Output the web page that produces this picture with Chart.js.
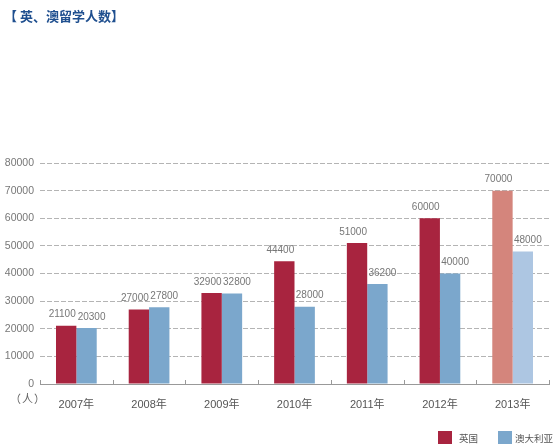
<!DOCTYPE html>
<html>
<head>
<meta charset="utf-8">
<script src="https://cdn.jsdelivr.net/npm/chart.js@4"></script>
<style>
  body { margin: 0; background: #fff; font-family: "Liberation Sans", "Noto Sans CJK SC", sans-serif; }
  #wrap { position: relative; width: 554px; height: 444px; overflow: hidden; }
  #title { position: absolute; left: 4px; top: 6px; font-size: 13px; font-weight: bold; color: #1f4f8f; font-family: "Noto Sans CJK SC", sans-serif; }
  #unit { position: absolute; left: 10px; top: 390px; font-size: 11px; color: #666; letter-spacing: 1px; font-family: "Noto Sans CJK SC", sans-serif; }
  .lg { position: absolute; top: 431px; font-size: 9.5px; color: #555; font-family: "Noto Sans CJK SC", sans-serif; white-space: nowrap; }
  .box { position: absolute; top: 431px; width: 14px; height: 13px; }
  canvas { position: absolute; left: 0; top: 0; }
</style>
</head>
<body>
<div id="wrap">
  <canvas id="ukAuChart" width="554" height="444"></canvas>
  <div id="title">【 英、澳留学人数】</div>
  <div id="unit">（人）</div>
  <div class="box" style="left:438px; background:#a8243f"></div>
  <div class="lg" style="left:459px">英国</div>
  <div class="box" style="left:498px; background:#7ba7cc"></div>
  <div class="lg" style="left:515px">澳大利亚</div>
</div>
<script>
// numbers of students
const years = ["2007年", "2008年", "2009年", "2010年", "2011年", "2012年", "2013年"];
const ukStudents = [21100, 27000, 32900, 44400, 51000, 60000, 70000];
const auStudents = [20300, 27800, 32800, 28000, 36200, 40000, 48000];
const yTicks = [0, 10000, 20000, 30000, 40000, 50000, 60000, 70000, 80000];

// last year is a forecast, so lighter colours
const ukColors = years.map((y, i) => i === years.length - 1 ? "#d4857c" : "#a8243f");
const auColors = years.map((y, i) => i === years.length - 1 ? "#adc6e2" : "#7ba7cc");

// draws the value above each bar, nudged apart a little like the original
const barValues = {
  id: "barValues",
  afterDatasetsDraw(chart) {
    let ctx = chart.ctx;
    ctx.save();
    ctx.font = "10px 'Liberation Sans', sans-serif";
    ctx.fillStyle = "#777";
    ctx.textAlign = "center";
    ctx.textBaseline = "bottom";
    chart.data.datasets.forEach((ds, di) => {
      let shift = di === 0 ? -4 : 5;
      chart.getDatasetMeta(di).data.forEach((bar, i) => {
        ctx.fillText(String(ds.data[i]), bar.x + shift, bar.y - 6);
      });
    });
    ctx.restore();
  }
};

// small upward ticks between the year groups on the base line
const groupTicks = {
  id: "groupTicks",
  beforeDatasetsDraw(chart) {
    let ctx = chart.ctx;
    let area = chart.chartArea;
    let step = (area.right - area.left) / years.length;
    ctx.save();
    ctx.strokeStyle = "#999";
    ctx.lineWidth = 1;
    for (let i = 0; i <= years.length; i++) {
      let x = Math.round(area.left + i * step) + 0.5;
      ctx.beginPath();
      ctx.moveTo(x, area.bottom);
      ctx.lineTo(x, area.bottom - 4);
      ctx.stroke();
    }
    ctx.restore();
  }
};

let context = document.getElementById("ukAuChart").getContext("2d");
new Chart(context, {
  type: "bar",
  data: {
    labels: years,
    datasets: [
      { label: "英国", data: ukStudents, backgroundColor: ukColors, categoryPercentage: 0.56, barPercentage: 1 },
      { label: "澳大利亚", data: auStudents, backgroundColor: auColors, categoryPercentage: 0.56, barPercentage: 1 }
    ]
  },
  options: {
    responsive: false,
    animation: false,
    layout: { padding: { left: 0, top: 163, right: 5, bottom: 0 } },
    plugins: { legend: { display: false }, tooltip: { enabled: false } },
    scales: {
      y: {
        min: 0,
        max: 80000,
        afterFit: (scale) => { scale.width = 40; },
        afterBuildTicks: (scale) => { scale.ticks = yTicks.map(v => ({ value: v })); },
        ticks: {
          padding: 6,
          color: "#777",
          font: { size: 10.5, family: "'Liberation Sans', sans-serif" },
          callback: (v) => String(v)
        },
        grid: {
          drawTicks: false,
          color: (c) => c.tick && c.tick.value === 0 ? "rgba(0,0,0,0)" : "#b4b4b4",
          lineWidth: 1
        },
        border: { display: false, dash: [5, 2] }
      },
      x: {
        afterFit: (scale) => { scale.height = 60; },
        ticks: {
          color: "#555",
          padding: 6,
          font: { size: 11, family: "'Liberation Sans', 'Noto Sans CJK SC', sans-serif" }
        },
        grid: { display: false },
        border: { display: true, color: "#999", width: 1 }
      }
    }
  },
  plugins: [barValues, groupTicks]
});
</script>
</body>
</html>
